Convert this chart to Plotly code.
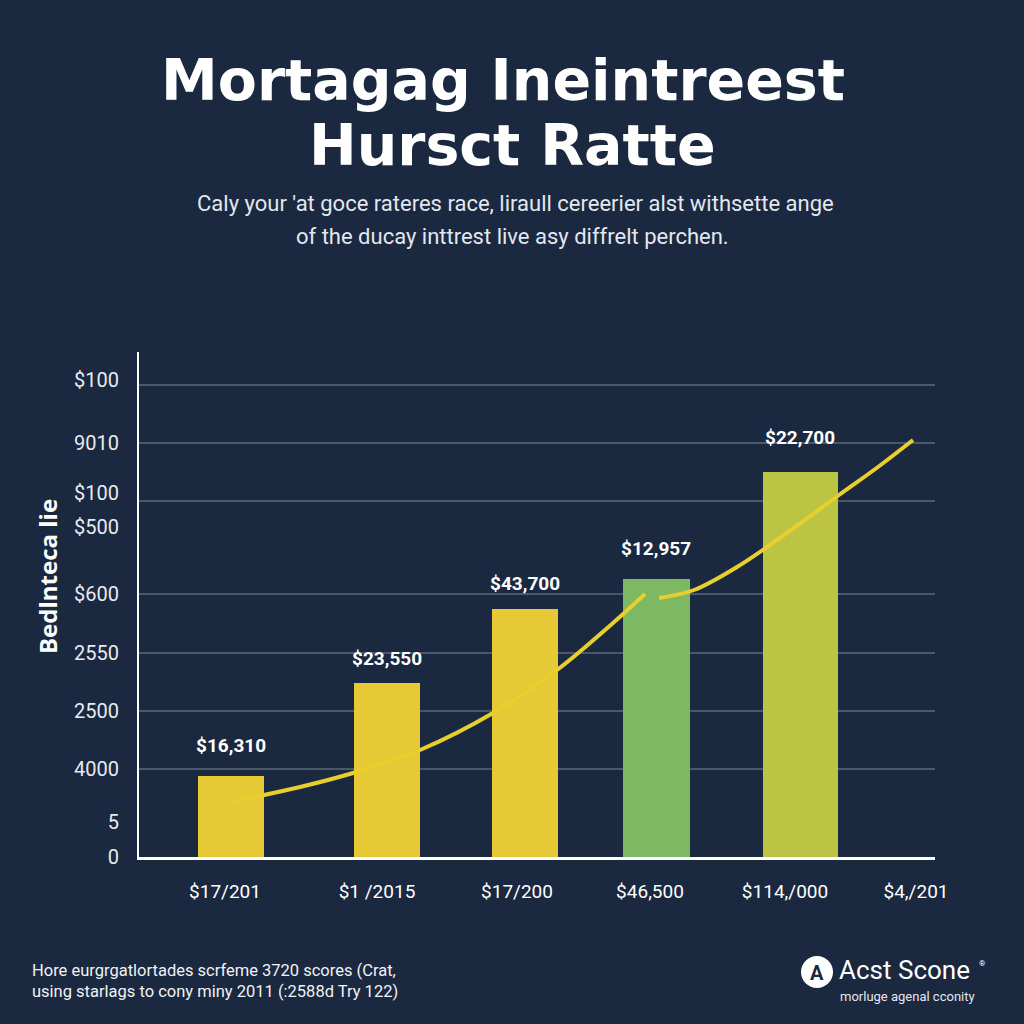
import plotly.graph_objects as go

# ---------------- data ----------------
x_tick_pos = [225, 377, 517, 650, 785, 916]
x_tick_labels = ["$17/201", "$1 /2015", "$17/200", "$46,500", "$114,/000", "$4,/201"]

y_tick_pos = [477, 414, 364, 330, 263, 204, 146, 88, 35, 0]
y_tick_labels = ["$100", "9010", "$100", "$500", "$600", "2550", "2500", "4000", "5", "0"]
grid_pos = [472, 414, 356, 263, 204, 146, 88]

bar_x = [231, 387, 525, 656, 800]
bar_values = [81, 174, 248, 278, 385]
bar_widths = [66, 66, 66, 67, 75]
bar_colors = ["#e6c935", "#e6c935", "#e6c935", "#7db862", "#bcc443"]
bar_labels = ["$16,310", "$23,550", "$43,700", "$12,957", "$22,700"]
label_shift = [31, 25, 26, 31, 35]

line1_x = [235, 300, 353, 420, 493, 557, 613, 645]
line1_y = [56, 70, 84, 107, 144, 187, 234, 263]
line2_x = [659, 694, 737, 791, 839, 878, 913]
line2_y = [259, 267, 290, 327, 362, 390, 417]

title_lines = ["Mortagag Ineintreest", "Hursct Ratte"]
subtitle_lines = ["Caly your 'at goce rateres race, liraull cereerier alst withsette ange",
                  "of the ducay inttrest live asy diffrelt perchen."]
footer_lines = ["Hore eurgrgatlortades scrfeme 3720 scores (Crat,",
                "using starlags to cony miny 2011 (:2588d Try 122)"]

BG = "#1a2840"
WHITE = "#ffffff"

PL, PR, PT, PB = 139, 935, 352, 857

fig = go.Figure()

fig.add_trace(go.Bar(
    x=bar_x, y=bar_values, width=bar_widths,
    marker=dict(color=bar_colors, line=dict(width=0)),
    hoverinfo="skip", showlegend=False,
))
for lx, ly in ((line1_x, line1_y), (line2_x, line2_y)):
    fig.add_trace(go.Scatter(
        x=lx, y=ly, mode="lines",
        line=dict(color="#e8cf2e", width=4, shape="spline", smoothing=1.0),
        hoverinfo="skip", showlegend=False,
    ))

# bar value labels
for bx, bv, bl, sh in zip(bar_x, bar_values, bar_labels, label_shift):
    fig.add_annotation(x=bx, y=bv, text=bl, showarrow=False, yshift=sh,
                       font=dict(family="Roboto", size=19, color=WHITE, weight="bold"))

# gridlines
for g in grid_pos:
    fig.add_shape(type="line", xref="paper", x0=0, x1=1, y0=g, y1=g,
                  line=dict(color="#5d6879", width=1.5), layer="below")


def pix_annot(px, py, text, size, family="Roboto", color=WHITE, xanchor="center",
              bold=False, align="center", angle=0):
    fig.add_annotation(
        xref="paper", yref="paper",
        x=(px - PL) / (PR - PL), y=(PB - py) / (PB - PT),
        text=text, showarrow=False, xanchor=xanchor, yanchor="middle", align=align,
        textangle=angle,
        font=dict(family=family, size=size, color=color, weight="bold" if bold else "normal"),
    )


# title
pix_annot(503, 80, title_lines[0], 57, family="DejaVu Sans", bold=True)
pix_annot(512, 145, title_lines[1], 57, family="DejaVu Sans", bold=True)
# subtitle
pix_annot(515, 204, subtitle_lines[0], 22, color="#e3e7ee")
pix_annot(512, 236, subtitle_lines[1], 22, color="#e3e7ee")
# y-axis title
pix_annot(47, 577, "Bedlnteca lie", 24, family="Open Sans", bold=True, angle=-90)
# footer
pix_annot(30, 970, footer_lines[0], 16.5, xanchor="left", color="#f0f2f5")
pix_annot(30, 991, footer_lines[1], 16.5, xanchor="left", color="#f0f2f5")
# logo
pix_annot(837, 970, "Acst Scone", 26, xanchor="left")
pix_annot(977, 963, "®", 8, xanchor="left")
pix_annot(838, 996, "morluge agenal cconity", 13, xanchor="left", color="#e3e7ee")

fig.add_shape(type="circle", xref="paper", yref="paper",
              x0=(801 - PL) / (PR - PL), x1=(833 - PL) / (PR - PL),
              y0=(PB - 988) / (PB - PT), y1=(PB - 956) / (PB - PT),
              fillcolor=WHITE, line=dict(width=0))
pix_annot(817, 973, "A", 20, color=BG, bold=True)

fig.update_layout(
    width=1024, height=1024,
    margin=dict(l=PL, r=1024 - PR, t=PT, b=1024 - PB, pad=0),
    paper_bgcolor=BG, plot_bgcolor=BG,
    bargap=0,
    xaxis=dict(
        range=[PL, PR], showgrid=False, zeroline=False,
        showline=True, linecolor=WHITE, linewidth=3,
        tickmode="array", tickvals=x_tick_pos, ticktext=x_tick_labels,
        ticks="", ticklabelstandoff=15,
        tickfont=dict(family="Roboto", size=19, color=WHITE),
    ),
    yaxis=dict(
        range=[0, PB - PT], showgrid=False, zeroline=False,
        showline=True, linecolor=WHITE, linewidth=2,
        tickmode="array", tickvals=y_tick_pos, ticktext=y_tick_labels,
        ticks="", ticklabelstandoff=14,
        tickfont=dict(family="Roboto", size=20, color="#e8ebf0"),
    ),
)

fig.write_html("out.html")
